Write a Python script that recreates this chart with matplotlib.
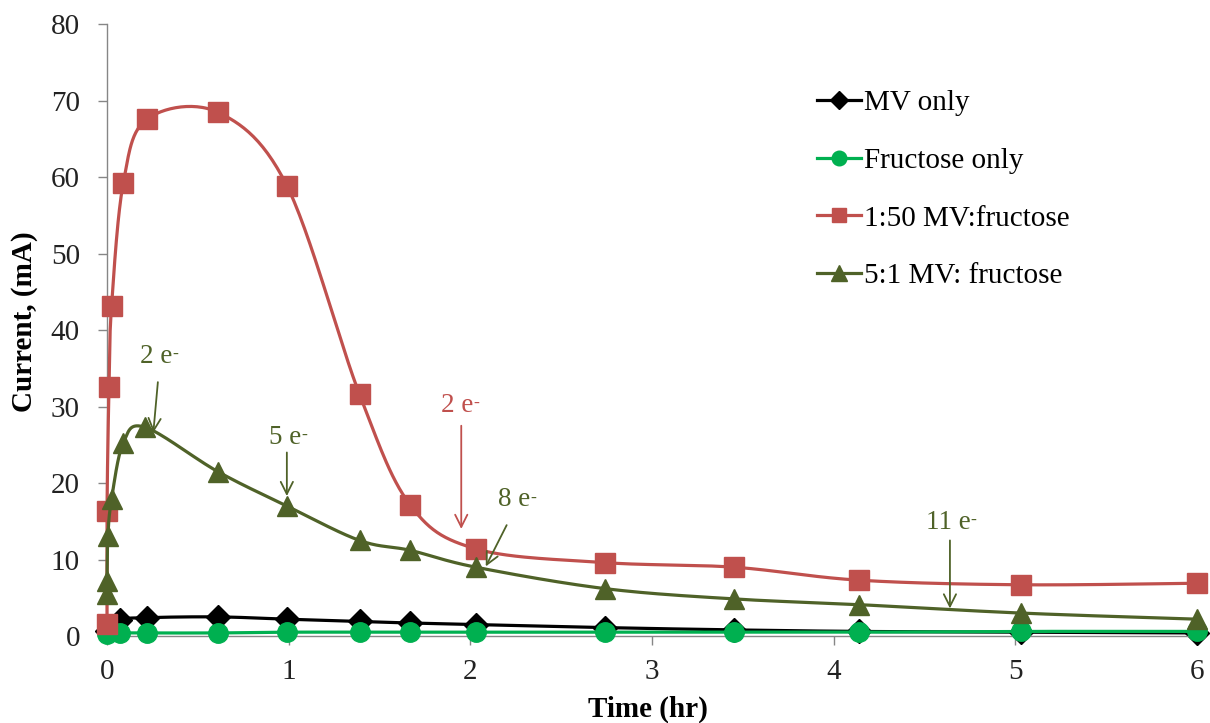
import numpy as np
import matplotlib
matplotlib.use('Agg')
import matplotlib.pyplot as plt

plt.rcParams['font.family'] = ['Liberation Serif', 'DejaVu Serif']

# MV only
mv_t = [0, 0.07, 0.22, 0.61, 0.99, 1.39, 1.67, 2.03, 2.74, 3.45, 4.14, 5.03, 6.0]
mv_i = [0.6, 2.1, 2.4, 2.5, 2.2, 1.9, 1.7, 1.5, 1.1, 0.8, 0.6, 0.5, 0.4]
# Fructose only
fr_t = [0, 0.07, 0.22, 0.61, 0.99, 1.39, 1.67, 2.03, 2.74, 3.45, 4.14, 5.03, 6.0]
fr_i = [0.3, 0.4, 0.4, 0.4, 0.5, 0.5, 0.5, 0.5, 0.5, 0.5, 0.5, 0.6, 0.6]
# 1:50 MV:fructose
r50_t = [0, 0, 0.011, 0.025, 0.09, 0.22, 0.61, 0.99, 1.39, 1.67, 2.03, 2.74, 3.45, 4.14, 5.03, 6.0]
r50_i = [1.6, 16.4, 32.5, 43.1, 59.3, 67.6, 68.5, 58.9, 31.6, 17.1, 11.4, 9.6, 9.0, 7.3, 6.7, 6.9]
# 5:1 MV: fructose
r51_t = [0, 0, 0.005, 0.025, 0.09, 0.21, 0.61, 0.99, 1.39, 1.67, 2.03, 2.74, 3.45, 4.14, 5.03, 6.0]
r51_i = [5.5, 7.2, 13.1, 17.9, 25.3, 27.3, 21.5, 17.0, 12.5, 11.2, 9.0, 6.2, 4.85, 4.1, 3.0, 2.2]

# electron-count markers: (label, text pos, arrow start, arrow tip, colour)
notes = [
    ('2', (0.27, 36.6), (0.28, 33.2), (0.255, 26.6), '#4F6228'),
    ('5', (0.98, 26.0), (0.99, 24.0), (0.99, 18.3), '#4F6228'),
    ('2', (1.93, 30.2), (1.95, 27.5), (1.95, 14.0), '#C0504D'),
    ('8', (2.24, 17.8), (2.2, 14.5), (2.085, 9.1), '#4F6228'),
    ('11', (4.63, 14.9), (4.64, 12.5), (4.64, 3.6), '#4F6228'),
]

fig = plt.figure(figsize=(12.1, 7.23), dpi=100)
ax = fig.add_axes([0.08843, 0.12033, 0.90083, 0.84606])
ax.set_xlim(0, 6)
ax.set_ylim(0, 80)


def smooth(ax, xs, ys, n=30):
    # bezier smoothing done in pixel space so the curve shape follows the axes aspect
    pts = ax.transData.transform(np.column_stack([xs, ys]))
    out = [pts[0]]
    m = len(pts)
    for i in range(m - 1):
        p0 = pts[max(i - 1, 0)]
        p1 = pts[i]
        p2 = pts[i + 1]
        p3 = pts[min(i + 2, m - 1)]
        c1 = p1 + (p2 - p0) / 6.0
        c2 = p2 - (p3 - p1) / 6.0
        t = np.linspace(0, 1, n)[1:, None]
        seg = ((1 - t) ** 3) * p1 + 3 * ((1 - t) ** 2) * t * c1 + 3 * (1 - t) * t ** 2 * c2 + t ** 3 * p2
        out.extend(seg)
    out = ax.transData.inverted().transform(np.array(out))
    return out[:, 0], out[:, 1]


series = [
    (mv_t, mv_i, 'black', 'D', 12, 'MV only'),
    (fr_t, fr_i, '#00B050', 'o', 14, 'Fructose only'),
    (r50_t, r50_i, '#C0504D', 's', 14, '1:50 MV:fructose'),
    (r51_t, r51_i, '#4F6228', '^', 15, '5:1 MV: fructose'),
]
handles = []
for k, (t, i, col, mk, ms, lab) in enumerate(series):
    sx, sy = smooth(ax, t, i)
    ax.plot(sx, sy, color=col, lw=2.3, zorder=2 + k, clip_on=False)
    ax.plot(t, i, ls='none', marker=mk, ms=ms, color=col, mec=col, zorder=2 + k, clip_on=False)
    h, = plt.plot([], [], color=col, lw=2.3, marker=mk, ms=ms * 0.75, mec=col, label=lab)
    handles.append(h)

for num, tp, st, tip, col in notes:
    txt = ax.text(tp[0], tp[1], num + ' e', color=col, fontsize=19.5,
                  ha='center', va='center', zorder=10)
    # small raised hyphen for the electron charge
    ax.annotate('-', xy=(1.0, 0.92), xycoords=txt, ha='left', va='top',
                color=col, fontsize=13, zorder=10)
    ax.annotate('', xy=tip, xytext=st,
                arrowprops=dict(arrowstyle='->', color=col, lw=1.3,
                                mutation_scale=22, shrinkA=0, shrinkB=0), zorder=10)

for s in ['top', 'right']:
    ax.spines[s].set_visible(False)
for s in ['left', 'bottom']:
    ax.spines[s].set_color('#868686')
    ax.spines[s].set_linewidth(1.0)
ax.set_xticks(range(0, 7))
ax.set_yticks(range(0, 81, 10))
ax.tick_params(axis='both', direction='out', color='#868686', length=6.5, width=1.0,
               labelsize=21, labelcolor='#222222')
ax.tick_params(axis='y', pad=13)
ax.tick_params(axis='x', pad=10)

fig.text(25 / 1210, 1 - 322 / 723, 'Current, (mA)', rotation=90, ha='center', va='center',
         fontsize=21, fontweight='bold')
fig.text(648 / 1210, 1 - 709 / 723, 'Time (hr)', ha='center', va='center',
         fontsize=21, fontweight='bold')

fig.legend(handles=handles, loc='upper left', bbox_to_anchor=(817 / 1210, 1 - 90 / 723),
           frameon=False, fontsize=21, handlelength=1.5, handletextpad=0.1,
           labelspacing=1.07, borderpad=0, borderaxespad=0)

fig.savefig('out.png', dpi=100)
